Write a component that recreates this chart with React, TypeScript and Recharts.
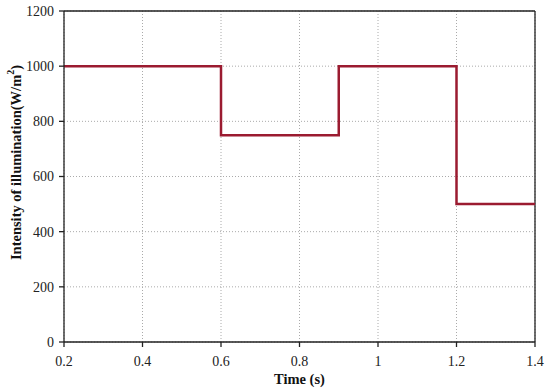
import React from "react";
import { LineChart, Line, XAxis, YAxis, CartesianGrid, ReferenceLine } from "recharts";

const timeS = [0.2, 0.6, 0.9, 1.2, 1.4];
const intensity = [1000, 750, 1000, 500, 500];
const xTicks = [0.2, 0.4, 0.6, 0.8, 1, 1.2, 1.4];
const yTicks = [0, 200, 400, 600, 800, 1000, 1200];

const data = timeS.map((t, i) => ({ t, v: intensity[i] }));

const font = "'Liberation Serif', 'DejaVu Serif', serif";

const YTitle = (props: any) => {
  const vb = props.viewBox || {};
  const cy = vb.y + vb.height / 2 - 14;
  const x = 16;
  return (
    <text
      x={x}
      y={cy}
      transform={`rotate(-90, ${x}, ${cy})`}
      textAnchor="middle"
      dominantBaseline="central"
      fontFamily={font}
      fontWeight="bold"
      fontSize={14.5}
      fill="#111"
    >
      Intensity of illumination(W/m
      <tspan dy={-6} fontSize={10}>2</tspan>
      <tspan dy={6}>)</tspan>
    </text>
  );
};

export default function App() {
  return (
    <div style={{ position: "absolute", left: 0, top: 0, background: "#fff" }}>
      <LineChart width={550} height={391} data={data} margin={{ top: 11, right: 15, left: 14, bottom: 19 }}>
        <CartesianGrid stroke="#aaa" strokeDasharray="1 2" />
        <XAxis
          dataKey="t"
          type="number"
          domain={[0.2, 1.4]}
          ticks={xTicks}
          tickFormatter={(v: number) => String(Number(v.toFixed(1)))}
          stroke="#222"
          strokeWidth={1.3}
          tickSize={5}
          tickMargin={9}
          height={30}
          tick={{ fill: "#222", fontFamily: font, fontSize: 14 }}
          label={{ value: "Time (s)", position: "insideBottom", offset: -12, fill: "#111", fontFamily: font, fontWeight: "bold", fontSize: 14.5 }}
        />
        <YAxis
          type="number"
          domain={[0, 1200]}
          ticks={yTicks}
          stroke="#222"
          strokeWidth={1.3}
          tickSize={5}
          tickMargin={5}
          width={50}
          tick={{ fill: "#222", fontFamily: font, fontSize: 14 }}
          label={<YTitle />}
        />
        <ReferenceLine y={1200} stroke="#222" strokeWidth={1.3} />
        <ReferenceLine x={1.4} stroke="#222" strokeWidth={1.3} />
        <Line
          type="stepAfter"
          dataKey="v"
          stroke="#9b1b30"
          strokeWidth={2.5}
          dot={false}
          isAnimationActive={false}
        />
      </LineChart>
    </div>
  );
}
